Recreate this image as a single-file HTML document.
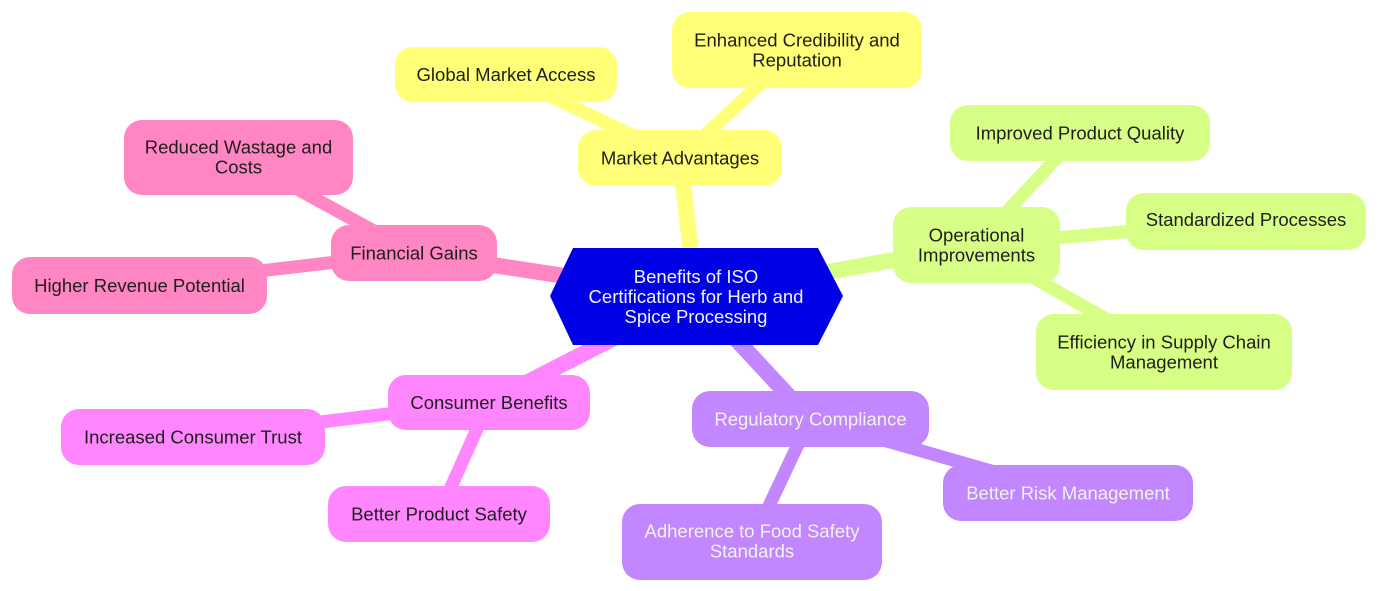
<!DOCTYPE html>
<html><head><meta charset="utf-8"><style>
html,body{margin:0;padding:0;background:#fff;}
svg{display:block;}
text{font-family:"Liberation Sans",sans-serif;font-size:18.5px;text-anchor:middle;}
.d{fill:#1e1e1e;}
.l{fill:#f2f2f2;}
</style></head><body>
<svg width="1379" height="591" viewBox="0 0 1379 591" xmlns="http://www.w3.org/2000/svg">
<g stroke-linecap="butt" fill="none">
<!-- root edges -->
<line x1="696" y1="296" x2="680" y2="158" stroke="#ffff78" stroke-width="16"/>
<line x1="696" y1="296" x2="414" y2="253" stroke="#ff86c2" stroke-width="16"/>
<line x1="696" y1="296" x2="976" y2="245" stroke="#d7ff86" stroke-width="16"/>
<line x1="696" y1="296" x2="489" y2="402" stroke="#ff86ff" stroke-width="16"/>
<line x1="696" y1="296" x2="810" y2="419" stroke="#c286ff" stroke-width="16"/>
<!-- leaf edges -->
<line x1="680" y1="158" x2="506" y2="75" stroke="#ffff78" stroke-width="13"/>
<line x1="680" y1="158" x2="797" y2="50" stroke="#ffff78" stroke-width="13"/>
<line x1="414" y1="253" x2="239" y2="157" stroke="#ff86c2" stroke-width="13"/>
<line x1="414" y1="253" x2="139" y2="285" stroke="#ff86c2" stroke-width="13"/>
<line x1="976" y1="245" x2="1080" y2="133" stroke="#d7ff86" stroke-width="13"/>
<line x1="976" y1="245" x2="1246" y2="221" stroke="#d7ff86" stroke-width="13"/>
<line x1="976" y1="245" x2="1164" y2="352" stroke="#d7ff86" stroke-width="13"/>
<line x1="489" y1="402" x2="193" y2="437" stroke="#ff86ff" stroke-width="13"/>
<line x1="489" y1="402" x2="439" y2="514" stroke="#ff86ff" stroke-width="13"/>
<line x1="810" y1="419" x2="1068" y2="493" stroke="#c286ff" stroke-width="13"/>
<line x1="810" y1="419" x2="752" y2="542" stroke="#c286ff" stroke-width="13"/>
</g>

<!-- central -->
<polygon points="550,296 573,248 818,248 843,296 818,345 573,345" fill="#0000e6"/>
<text class="l" x="696" y="283">Benefits of ISO</text>
<text class="l" x="696" y="303">Certifications for Herb and</text>
<text class="l" x="696" y="323">Spice Processing</text>

<!-- Market (yellow) -->
<rect x="672" y="12" width="250" height="76" rx="18" fill="#ffff78"/>
<text class="d" x="797" y="46.5">Enhanced Credibility and</text>
<text class="d" x="797" y="66.5">Reputation</text>
<rect x="395" y="47" width="222" height="55" rx="18" fill="#ffff78"/>
<text class="d" x="506" y="81">Global Market Access</text>
<rect x="578" y="130" width="204" height="56" rx="18" fill="#ffff78"/>
<text class="d" x="680" y="164.5">Market Advantages</text>

<!-- Financial (pink) -->
<rect x="124" y="120" width="229" height="75" rx="18" fill="#ff86c2"/>
<text class="d" x="238.5" y="153.5">Reduced Wastage and</text>
<text class="d" x="238.5" y="173.5">Costs</text>
<rect x="331" y="225" width="166" height="56" rx="18" fill="#ff86c2"/>
<text class="d" x="414" y="259.5">Financial Gains</text>
<rect x="12" y="257" width="255" height="57" rx="18" fill="#ff86c2"/>
<text class="d" x="139.5" y="292">Higher Revenue Potential</text>

<!-- Operational (lime) -->
<rect x="950" y="105" width="260" height="56" rx="18" fill="#d7ff86"/>
<text class="d" x="1080" y="139.5">Improved Product Quality</text>
<rect x="893" y="207" width="167" height="76" rx="18" fill="#d7ff86"/>
<text class="d" x="976.5" y="241.5">Operational</text>
<text class="d" x="976.5" y="261.5">Improvements</text>
<rect x="1126" y="193" width="240" height="57" rx="18" fill="#d7ff86"/>
<text class="d" x="1246" y="226">Standardized Processes</text>
<rect x="1036" y="314" width="256" height="76" rx="18" fill="#d7ff86"/>
<text class="d" x="1164" y="348.5">Efficiency in Supply Chain</text>
<text class="d" x="1164" y="368.5">Management</text>

<!-- Consumer (magenta) -->
<rect x="388" y="375" width="202" height="55" rx="18" fill="#ff86ff"/>
<text class="d" x="489" y="409">Consumer Benefits</text>
<rect x="61" y="409" width="264" height="56" rx="18" fill="#ff86ff"/>
<text class="d" x="193" y="443.5">Increased Consumer Trust</text>
<rect x="328" y="486" width="222" height="56" rx="18" fill="#ff86ff"/>
<text class="d" x="439" y="520.5">Better Product Safety</text>

<!-- Regulatory (purple) -->
<rect x="692" y="391" width="237" height="56" rx="18" fill="#c286ff"/>
<text class="l" x="810.5" y="425.5">Regulatory Compliance</text>
<rect x="943" y="465" width="250" height="56" rx="18" fill="#c286ff"/>
<text class="l" x="1068" y="499.5">Better Risk Management</text>
<rect x="622" y="504" width="260" height="76" rx="18" fill="#c286ff"/>
<text class="l" x="752" y="537.5">Adherence to Food Safety</text>
<text class="l" x="752" y="557.5">Standards</text>
</svg>
</body></html>
